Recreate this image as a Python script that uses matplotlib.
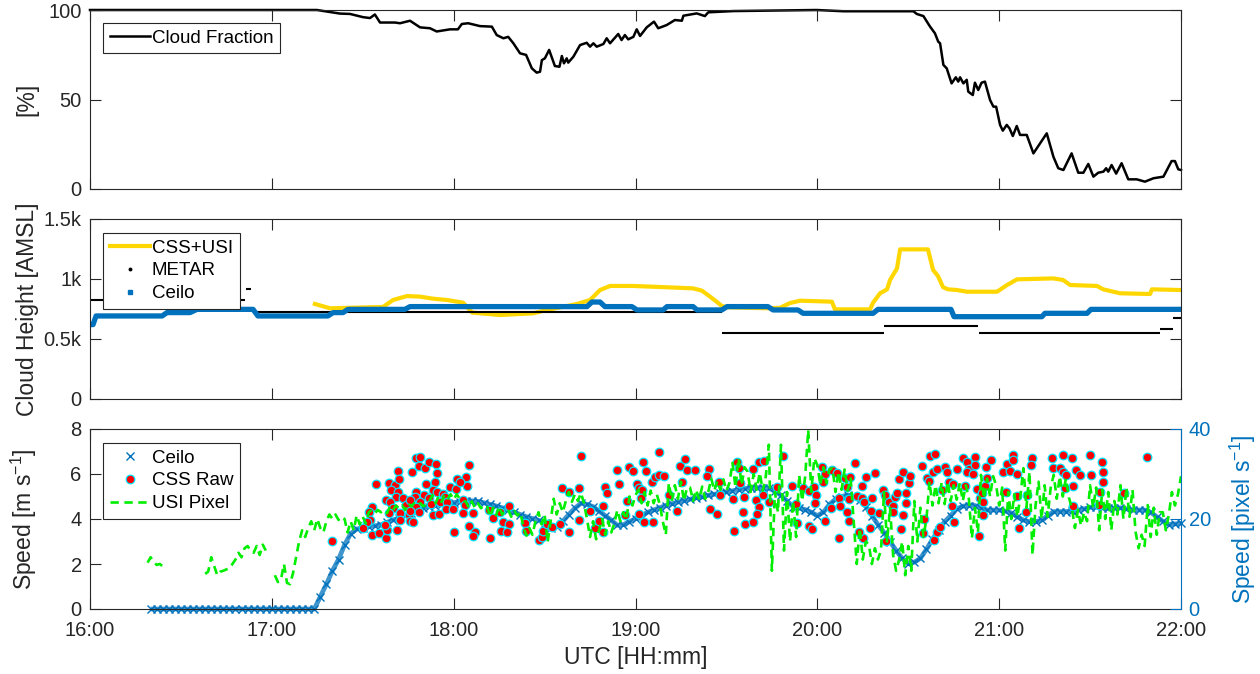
import numpy as np
import matplotlib.pyplot as plt
from matplotlib.lines import Line2D

plt.rcParams['font.family'] = ['Liberation Sans', 'DejaVu Sans']
plt.rcParams['mathtext.default'] = 'regular'
plt.rcParams['lines.scale_dashes'] = False

nan = np.nan
GREY = '#262626'
BLUE = '#0072BD'

hour_ticks = [16, 17, 18, 19, 20, 21, 22]
hour_labels = ['16:00', '17:00', '18:00', '19:00', '20:00', '21:00', '22:00']

# ---- cloud fraction [%], time in minutes after 16:00 UTC
cf_min = [0, 74.9, 82.5, 85.8, 90.1, 92.4, 94.0, 95.7, 100.6, 102.3,
          105.6, 108.9, 112.2, 114.4, 118.8, 121.4, 122.7, 124.8, 128.7, 132.6,
          134.2, 136.4, 138.0, 139.7, 141.9, 143.9, 145.8, 147.4, 148.5, 149.1,
          150.1, 151.5, 153.4, 154.9, 155.7, 156.4, 157.3, 157.8, 159.5, 161.7,
          163.9, 165.0, 166.1, 167.2, 169.4, 170.5, 171.6, 174.3, 175.4, 176.5,
          177.6, 179.3, 180.4, 181.5, 183.7, 186.1, 187.5, 190.3, 193.0, 195.3,
          195.8, 200.2, 202.9, 204.0, 212.3, 239.8, 248.6, 271.7, 272.8, 275.0,
          277.2, 278.8, 279.9, 280.5, 281.6, 282.7, 284.3, 285.7, 286.5, 287.1,
          288.2, 289.3, 289.8, 291.3, 292.0, 293.1, 294.2, 295.3, 297.0, 298.1,
          299.0, 300.3, 301.2, 302.5, 303.4, 304.5, 305.8, 306.9, 309.1, 311.3,
          313.5, 315.7, 317.9, 319.5, 321.2, 322.3, 323.9, 326.1, 327.8, 329.4,
          331.1, 332.7, 334.4, 335.3, 336.0, 337.1, 338.6, 340.4, 342.6, 345.4,
          348.1, 350.9, 354.2, 356.9, 358.0, 359.1, 360]
cf_pct = [100, 100, 98, 97.8, 96, 95.5, 97.5, 93, 93, 92.6,
          94, 90.3, 89.8, 88, 89.2, 89.2, 92.2, 92.6, 91, 90.7,
          86, 84.2, 85, 81.4, 75.8, 74.9, 67.4, 65, 65.5, 72,
          73, 77.7, 68.7, 68.3, 74.3, 70.2, 73, 70.6, 73.9, 80.4,
          81.7, 79.5, 81.4, 79.5, 81, 84.2, 81.4, 86.6, 83.2, 86,
          83.6, 85, 89.2, 85.5, 90.3, 93.5, 89.8, 91.6, 94.4, 94,
          96.8, 98.1, 96.6, 98.7, 99.4, 100, 99.3, 99.3, 97.8, 96.6,
          90.7, 87, 82.3, 81.4, 69.3, 67.4, 59, 62.4, 60, 62.4,
          59, 61, 54.4, 52.5, 59.4, 55.3, 59.4, 60, 49.7, 46,
          46, 35.8, 32.6, 35.8, 33.9, 29.6, 35.2, 30.2, 30.2, 19.9,
          25.5, 31.1, 18, 11.6, 10.6, 14.4, 19.9, 9.1, 9.1, 14,
          6.9, 9.1, 9.7, 11.6, 9.7, 13.4, 8.6, 14.4, 5.4, 5.4,
          4.1, 6, 6.9, 15.6, 15.6, 11, 10.6]

# ---- cloud base height [m AMSL]
ceilo_h_min = [0, 1.0, 2.0, 23.8, 25.4, 33.0, 35.3, 53.8, 55.4, 78.5,
               80.2, 83.5, 85.1, 103.9, 105.6, 164.0, 165.6, 168.3, 169.9, 178.8,
               180.5, 189.1, 190.4, 199.0, 200.3, 208.5, 210.2, 223.7, 225.4, 233.6,
               235.3, 258.4, 260.0, 284.1, 285.1, 314.1, 315.1, 329.0, 330.3, 359.7]
ceilo_h = [620, 620, 692, 692, 720, 720, 747, 747, 692, 692,
           720, 720, 747, 747, 770, 770, 808, 808, 770, 770,
           742, 742, 770, 770, 742, 742, 770, 770, 742, 742,
           714, 714, 747, 747, 686, 686, 714, 714, 747, 747]

cssusi_min = [74.2, 79.2, 96.7, 100.0, 104.6, 108.9, 113.2, 117.8, 123.1, 126.1,
              135.3, 146.2, 150.8, 160.7, 165.0, 168.3, 171.6, 179.2, 190.4, 199.0,
              201.9, 204.6, 206.9, 208.5, 210.5, 223.4, 227.7, 231.0, 234.3, 244.8,
              245.8, 257.4, 258.4, 260.7, 263.0, 264.0, 266.3, 267.3, 276.5, 278.2,
              279.8, 281.5, 283.1, 286.1, 289.4, 299.3, 302.6, 305.9, 317.8, 321.1,
              323.4, 332.3, 334.3, 339.9, 349.8, 350.4, 360]
cssusi_h = [792, 756, 767, 825, 858, 853, 836, 825, 803, 720,
            700, 714, 742, 792, 825, 908, 942, 942, 931, 922,
            903, 853, 808, 775, 764, 756, 760, 800, 819, 811,
            747, 747, 803, 881, 914, 992, 1089, 1247, 1247, 1075,
            1025, 931, 914, 908, 894, 894, 950, 997, 1005, 992,
            950, 942, 914, 881, 875, 914, 908]

metar_start = [0, 51.5, 55.1, 208.5, 262.0, 293.3, 353.0, 357.4]
metar_end = [51.1, 53.1, 208.5, 262.0, 293.0, 353.0, 357.4, 360]
metar_h = [825, 914, 728, 547, 608, 547, 581, 672]

# ---- cloud speeds
# ceilometer derived speed [m/s], one value every 2 min from 16:20
ceilo_v_start = 20
ceilo_v = [0.0] * 28 + [
    0.55, 1.1, 1.7, 2.2, 2.85, 3.35, 3.55, 3.62, 3.66, 3.7,
    3.74, 3.85, 3.96, 4.05, 4.17, 4.27, 4.42, 4.5, 4.55, 4.6,
    4.65, 4.7, 4.73, 4.76, 4.79, 4.81, 4.78, 4.72, 4.65, 4.58,
    4.5, 4.4, 4.3, 4.2, 4.1, 4.02, 3.94, 3.82, 3.58, 3.65,
    3.9, 4.2, 4.48, 4.7, 4.65, 4.55, 4.35, 4.15, 3.95, 3.72,
    3.75, 3.88, 4.02, 4.15, 4.3, 4.4, 4.5, 4.6, 4.68, 4.75,
    4.82, 4.88, 4.94, 4.98, 5.05, 5.1, 5.15, 5.2, 5.25, 5.3,
    5.35, 5.4, 5.4, 5.38, 5.36, 5.25, 5.05, 4.8, 4.55, 4.48,
    4.42, 4.3, 4.15, 4.3, 4.65, 4.88, 5.0, 5.07, 4.98, 4.85,
    4.55, 4.15, 3.75, 3.4, 3.0, 2.6, 2.25, 2.02, 2.08, 2.25,
    2.65, 3.1, 3.5, 3.88, 4.15, 4.45, 4.57, 4.6, 4.6, 4.5,
    4.4, 4.4, 4.4, 4.35, 4.27, 4.1, 3.95, 3.88, 3.88, 3.95,
    4.15, 4.33, 4.33, 4.33, 4.36, 4.4, 4.45, 4.52, 4.53, 4.49,
    4.47, 4.48, 4.5, 4.45, 4.4, 4.4, 4.4, 4.3, 4.1, 3.9,
    3.75, 3.78, 3.81]

# raw CSS estimates: (minute, m/s)
css_raw = [
    (79.7, 3.04), (94.4, 5.56), (93.0, 4.55), (91.9, 4.3), (92.4, 3.96), (91.3, 3.88),
    (90.2, 3.59), (93.0, 3.29), (95.5, 3.36), (97.7, 3.14), (98.1, 3.51), (101.2, 3.51),
    (97.4, 3.73), (98.5, 5.59), (100.7, 5.51), (99.2, 5.29), (101.7, 6.14), (102.1, 5.78),
    (101.5, 5.22), (101.0, 4.99), (97.7, 4.84), (99.0, 4.77), (100.1, 4.5), (98.8, 4.25),
    (102.3, 4.25), (102.3, 3.96), (103.4, 4.92), (104.3, 4.62), (105.1, 4.18), (105.6, 3.91),
    (106.7, 3.88), (106.2, 6.07), (107.6, 6.73), (108.9, 6.77), (108.7, 6.37), (110.6, 6.25),
    (111.7, 6.55), (114.2, 6.43), (114.6, 6.03), (110.9, 5.54), (113.9, 5.66), (107.6, 5.22),
    (107.3, 4.99), (105.6, 4.84), (110.2, 5.07), (108.9, 4.74), (107.6, 4.55), (105.6, 4.36),
    (108.4, 4.3), (112.0, 4.92), (112.4, 4.65), (113.3, 5.29), (114.4, 5.22), (116.4, 5.1),
    (117.2, 4.99), (115.5, 4.74), (117.7, 4.74), (113.1, 4.18), (115.3, 4.21), (117.5, 4.44),
    (119.7, 4.44), (118.8, 5.44), (120.8, 5.33), (121.2, 5.78), (124.1, 5.88), (124.9, 6.4),
    (124.5, 5.48), (122.1, 5.66), (123.2, 4.84), (123.8, 4.62), (123.2, 4.25), (126.3, 4.25),
    (120.1, 3.41), (125.2, 3.7), (127.1, 3.44), (126.3, 3.26), (132.0, 3.17), (131.5, 4.4),
    (132.9, 4.06), (135.3, 4.3), (136.4, 3.88), (138.1, 3.76), (138.4, 4.59), (135.6, 3.47),
    (137.5, 3.41), (143.6, 3.81), (143.9, 3.47), (148.3, 3.07), (149.1, 3.22), (149.6, 3.47),
    (150.7, 3.76), (152.4, 3.66), (155.1, 3.76), (158.2, 3.41), (161.2, 3.96), (155.7, 5.36),
    (157.9, 5.22), (161.5, 5.36), (161.9, 6.81), (165.0, 4.36), (166.7, 3.59),
    (169.2, 4.59), (168.1, 3.91), (169.2, 3.44), (170.0, 5.44), (170.5, 5.14), (173.8, 6.18),
    (174.4, 5.54), (176.6, 4.18), (177.3, 4.8), (177.7, 6.33), (179.3, 6.14), (182.4, 6.55),
    (183.5, 6.14), (180.4, 5.54), (181.3, 5.36), (182.1, 5.29), (181.7, 4.92), (181.0, 4.21),
    (182.8, 3.88), (185.4, 5.63), (186.5, 5.88), (187.6, 6.96), (187.6, 5.96), (189.4, 5.93),
    (185.9, 3.85), (190.9, 5.07), (193.8, 4.36), (194.7, 6.37), (196.4, 6.67), (196.9, 6.18),
    (195.3, 5.66), (199.7, 6.18), (204.1, 6.22), (203.5, 5.93), (204.6, 4.44), (206.8, 4.21),
    (207.4, 5.63), (207.9, 5.07), (212.3, 4.89), (212.5, 3.47), (213.4, 6.55), (214.3, 6.25),
    (214.5, 5.59), (215.8, 4.99), (215.4, 4.33), (216.2, 3.76), (218.9, 3.85), (219.8, 4.84),
    (220.6, 4.55), (220.2, 4.21), (218.7, 6.22), (220.6, 6.52), (222.4, 6.58), (222.2, 5.07),
    (223.9, 4.74), (228.8, 6.81), (226.8, 5.44), (231.6, 5.48), (233.0, 4.65), (233.2, 3.81),
    (235.4, 5.36), (237.4, 3.7), (238.2, 3.56), (237.1, 5.24), (238.9, 5.44), (239.6, 5.07),
    (239.3, 4.7), (241.5, 6.33), (242.6, 5.99), (242.0, 5.63), (242.6, 3.91), (244.8, 6.18),
    (246.4, 6.03), (244.4, 4.47), (247.3, 4.95), (247.5, 4.59), (247.3, 3.14), (249.2, 5.81),
    (249.7, 5.44), (249.7, 4.3), (250.8, 5.88), (250.6, 4.89), (250.6, 3.91), (252.5, 6.47),
    (253.0, 5.04), (254.7, 5.48), (254.7, 4.95), (255.4, 4.77), (256.1, 5.88), (258.0, 4.92),
    (259.1, 6.03), (257.6, 4.36), (257.4, 3.59), (255.2, 3.14), (260.2, 4.25), (261.8, 5.29),
    (262.4, 5.07), (262.7, 3.02), (253.6, 3.41),
    (263.8, 4.74), (265.1, 4.59), (264.9, 4.3), (265.7, 4.99), (266.4, 5.14), (266.8, 5.78),
    (268.2, 6.1), (267.5, 3.56), (268.4, 4.18), (269.3, 5.14), (269.1, 4.7), (270.1, 5.59),
    (270.6, 5.93), (274.5, 6.37), (275.2, 4.0), (274.8, 3.36), (276.1, 5.84), (277.2, 6.81),
    (278.9, 6.87), (276.9, 5.69), (278.1, 6.07), (279.4, 6.22), (278.5, 3.07), (279.6, 3.41),
    (280.5, 3.66), (281.1, 5.29), (282.2, 6.33), (282.7, 6.07), (283.3, 5.63), (284.7, 5.54),
    (284.4, 4.59), (285.1, 3.88), (286.0, 6.22), (288.2, 6.73), (289.3, 6.52), (290.2, 6.22),
    (292.0, 6.77), (292.0, 6.4), (288.8, 5.48), (289.5, 6.1), (291.5, 5.99), (292.6, 5.33),
    (293.7, 4.95), (294.3, 5.14), (293.2, 3.26), (294.8, 4.77), (294.8, 4.18), (295.4, 5.48),
    (296.1, 5.81), (295.7, 6.33), (297.2, 6.62), (301.4, 6.1), (302.7, 6.43), (304.5, 6.84),
    (304.7, 6.62), (303.6, 6.14), (305.8, 5.99), (302.3, 5.19), (306.0, 5.04), (306.4, 3.61),
    (308.9, 4.3), (309.3, 5.07), (310.8, 6.73), (310.4, 6.4), (317.4, 6.7), (317.9, 6.25),
    (320.1, 6.25), (321.0, 6.84), (321.0, 6.1), (322.1, 5.96), (321.8, 5.39), (324.0, 6.7),
    (324.5, 5.48), (324.3, 4.59), (325.4, 6.18), (326.7, 5.96), (330.0, 6.84), (330.2, 5.96),
    (333.9, 6.52), (334.2, 6.07), (334.2, 5.66), (333.3, 5.22), (333.1, 4.62), (341.2, 5.14),
    (348.7, 6.77)]

# USI pixel speed [pixel/s], one value per minute from 16:19
usi_start = 19
usi_pix = [
    10.3, 11.5, 10.5, 9.8, 10.0, 9.5, 9.5,
    nan, nan, nan, nan, nan, nan, nan, nan, nan, nan, nan, nan,
    7.8, 8.3, 11.5, 9.5, 7.5, 8.3, 8.5, 8.8, 9.0, 10.0, 11.0, 12.5, 11.5, 13.5, 14.0,
    13.0, 12.5, 14.0, 12.0, 14.3, 13.0,
    nan, nan,
    7.5, 6.0, 6.5, 10.0, 5.8, 5.5, 8.0,
    11.5, 15.0, 17.5, 16.0, 18.0,
    19.5, 17.5, 20.0, 18.0, 17.0, 19.5,
    21.0, 20.0, 21.0, 19.8, 20.5,
    20.0, 17.0, 19.5, 17.5,
    20.8, 18.8, 20.5, 19.0,
    21.5, 22.0, 21.3, 22.0, 21.5, 22.0, 21.3,
    22.8, 22.0, 23.0, 22.3, 23.0, 22.0,
    23.5, 22.8, 23.5, 23.0, 23.5, 22.8, 23.3,
    24.0, 25.3, 23.5, 25.0, 23.8, 25.4, 24.5,
    25.5, 24.3, 25.5, 24.5, 24.2,
    23.8, 22.5, 23.9, 22.5, 23.5, 22.4, 23.0,
    23.0, 20.5, 22.5, 20.8, 22.8, 21.0, 22.0,
    22.0, 20.5, 21.8, 20.8, 21.5,
    18.3, 16.3, 18.0, 16.5,
    19.5,
    21.5, 18.8, 21.0, 14.8, 19.5,
    24.5, 21.0, 23.5, 21.5, 24.0,
    26.0, 23.8, 25.5, 24.0, 25.8, 23.5,
    20.0, 16.0, 19.5, 15.5, 17.5,
    20.0, 16.5, 19.5, 17.0, 19.0,
    22.0, 19.5, 21.5, 19.8,
    25.0, 23.0, 25.3,
    26.5, 23.5, 26.0, 23.0, 26.3, 23.5, 25.5, 23.3,
    19.5, 16.5,
    28.0, 24.0, 27.5, 24.5, 28.3, 24.0, 27.0,
    27.0, 24.0, 26.5, 24.3, 27.2, 24.5, 26.0,
    29.0, 26.3, 28.5, 26.5, 28.8, 26.3, 28.0,
    32.5, 27.0, 33.5, 27.5, 31.5,
    30.5, 26.0, 30.0, 26.5, 30.3, 26.3, 29.5,
    36.5, 8.5,
    26.0, 21.5, 36.5,
    13.0,
    26.0, 15.0, 24.0, 16.0,
    29.8, 24.0, 29.5,
    39.8,
    26.0, 33.5,
    32.0, 27.5, 31.5, 28.0, 31.0,
    31.3, 26.0, 30.5, 26.5, 31.0, 26.3, 29.0,
    19.5, 10.0, 18.0, 11.0, 15.0,
    14.3, 10.0, 13.5, 11.0, 13.0,
    26.0, 15.0, 22.5,
    12.0, 8.5, 11.0,
    15.0, 7.5, 14.0, 8.5,
    24.0, 15.0, 22.5, 16.0,
    20.0,
    28.3, 23.0, 27.5, 23.5, 28.0, 23.3,
    28.3, 24.0, 27.5, 24.3, 28.0, 24.0, 27.5,
    24.5, 15.7, 22.5, 17.0,
    29.8, 24.5, 29.0, 25.0, 29.5,
    27.5, 23.0, 27.0,
    13.0,
    26.0, 20.0, 25.5, 20.5, 25.0,
    31.3, 22.5, 30.5, 12.0, 23.0,
    28.3, 20.0, 27.5, 20.5, 27.0,
    29.8, 24.5, 29.5, 25.0, 29.0, 24.8,
    22.4, 18.0, 22.0, 18.5, 21.5,
    19.5,
    27.5, 22.5, 27.0, 17.5, 26.5, 20.0, 26.0, 17.5,
    24.0, 21.0,
    27.5, 20.0, 27.0, 20.5, 26.5,
    17.2, 13.5, 16.5, 14.0,
    23.1, 16.0, 22.5, 16.5, 21.5,
    21.5, 17.5, 21.0,
    26.0, 23.0, 25.5, 29.5]


def to_hour(minutes):
    return 16 + np.asarray(minutes, dtype=float) / 60.0


def style_axes(ax, right=True):
    ax.set_xlim(16, 22)
    ax.set_xticks(hour_ticks)
    ax.tick_params(direction='in', length=8, width=0.8, colors=GREY,
                   labelsize=14.5, top=True, right=right)
    ax.tick_params(axis='y', pad=6)
    ax.tick_params(axis='x', pad=9)
    for sp in ax.spines.values():
        sp.set_color(GREY)
        sp.set_linewidth(0.8)


def add_legend(ax, handles, labels, y):
    leg = ax.legend(handles, labels, loc='upper left', bbox_to_anchor=(0.012, y),
                    borderaxespad=0, fontsize=13.5, frameon=True, fancybox=False,
                    framealpha=1, edgecolor=GREY, borderpad=0.35, labelspacing=0.3,
                    handlelength=2.15, handletextpad=0.1)
    leg.get_frame().set_linewidth(0.8)
    return leg


fig = plt.figure(figsize=(12.6, 6.74), dpi=100)
L, W = 90 / 1260, 1091 / 1260
ax1 = fig.add_axes([L, 1 - 189 / 674, W, 179 / 674])
ax2 = fig.add_axes([L, 1 - 399 / 674, W, 180 / 674])
ax3 = fig.add_axes([L, 1 - 609 / 674, W, 180 / 674])

# cloud fraction
style_axes(ax1)
cf_line, = ax1.plot(to_hour(cf_min), cf_pct, color='k', lw=1.8, clip_on=False)
ax1.set_ylim(0, 100)
ax1.set_yticks([0, 50, 100])
ax1.tick_params(labelbottom=False)
ax1.set_ylabel('[%]', fontsize=16.5, color=GREY)
ax1.yaxis.set_label_coords(-0.047, 0.5)
add_legend(ax1, [cf_line], ['Cloud Fraction'], 0.927)

# cloud height
style_axes(ax2)
ax2.plot(to_hour(cssusi_min), cssusi_h, color='#FFD700', lw=3)
ax2.hlines(metar_h, to_hour(metar_start), to_hour(metar_end), color='k', lw=1.5)
ax2.plot(to_hour(ceilo_h_min), ceilo_h, color=BLUE, lw=3.8)
ax2.set_ylim(0, 1500)
ax2.set_yticks([0, 500, 1000, 1500])
ax2.set_yticklabels(['0', '0.5k', '1k', '1.5k'])
ax2.tick_params(labelbottom=False)
ax2.set_ylabel('Cloud Height [AMSL]', fontsize=16.5, color=GREY)
ax2.yaxis.set_label_coords(-0.047, 0.5)
h_css = Line2D([], [], color='#FFD700', lw=3)
h_metar = Line2D([], [], color='k', ls='none', marker='o', ms=1.8)
h_ceilo = Line2D([], [], color=BLUE, ls='none', marker='s', ms=3.5)
add_legend(ax2, [h_css, h_metar, h_ceilo], ['CSS+USI', 'METAR', 'Ceilo'], 0.922)

# cloud speed
style_axes(ax3, right=False)
ax3.spines['right'].set_visible(False)
cv_t = to_hour(ceilo_v_start + 2 * np.arange(len(ceilo_v)))
ax3.plot(cv_t, ceilo_v, color=BLUE, lw=3.4, alpha=0.75, solid_capstyle='butt',
         clip_on=False)
ceilo_pts, = ax3.plot(cv_t, ceilo_v, ls='none', marker='x', ms=5.5,
                      mew=1.0, color=BLUE, clip_on=False)
css_t, css_v = np.array(css_raw).T
css_pts, = ax3.plot(to_hour(css_t), css_v, ls='none', marker='o', ms=6.2,
                    mfc='red', mec='#00E5FF', mew=0.9)
ax3.set_ylim(0, 8)
ax3.set_yticks([0, 2, 4, 6, 8])
ax3.set_xticklabels(hour_labels)
ax3.set_xlabel('UTC [HH:mm]', fontsize=16.5, color=GREY, labelpad=4)
ax3.set_ylabel('Speed [m s$^{-1}$]', fontsize=16.5, color=GREY)
ax3.yaxis.set_label_coords(-0.047, 0.5)

ax4 = ax3.twinx()
usi_t = usi_start + np.arange(len(usi_pix))
usi_line, = ax4.plot(to_hour(usi_t), usi_pix, color='#00EE00', lw=1.9,
                     dashes=(6, 4))
ax4.set_xlim(16, 22)
ax4.set_ylim(0, 40)
ax4.set_yticks([0, 20, 40])
ax4.tick_params(axis='y', direction='in', length=8, width=0.8, colors=BLUE,
                labelsize=14.5, pad=5.5)
for side in ['left', 'top', 'bottom']:
    ax4.spines[side].set_visible(False)
ax4.spines['right'].set_color(BLUE)
ax4.spines['right'].set_linewidth(0.8)
ax4.set_ylabel('Speed [pixel s$^{-1}$]', fontsize=16.5, color=BLUE)
ax4.yaxis.set_label_coords(1.043, 0.5)
add_legend(ax4, [ceilo_pts, css_pts, usi_line], ['Ceilo', 'CSS Raw', 'USI Pixel'], 0.922)

fig.savefig('out.png', dpi=100)
